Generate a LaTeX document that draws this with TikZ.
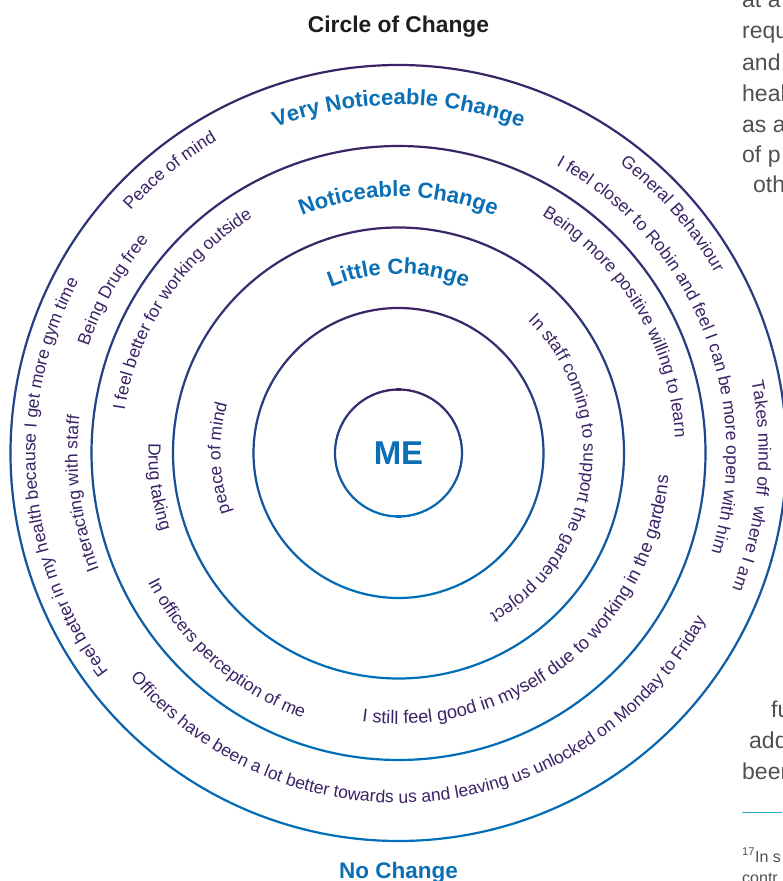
\documentclass[tikz,border=0pt]{standalone}
\usepackage{fontspec}
\setmainfont{Liberation Sans}
\usetikzlibrary{decorations.text}
\definecolor{cpurple}{RGB}{58,36,102}
\definecolor{cblue}{RGB}{0,112,186}
\definecolor{lblue}{RGB}{11,111,181}
\definecolor{itemc}{RGB}{59,35,102}
\definecolor{titlec}{RGB}{30,30,30}
\definecolor{pagegray}{RGB}{80,80,80}
\definecolor{rulecyan}{RGB}{39,170,208}
\newcommand\itemfnt{\fontsize{17.5}{20}\selectfont\color{itemc}}
\newcommand\itemfntb{\fontsize{18.3}{21}\selectfont\color{itemc}}
\newcommand\lblfnt{\fontsize{22}{26}\selectfont\bfseries\color{lblue}}
% clockwise text (tops outward): radius, centre angle, format, text
\newcommand\cwtext[4]{%
  \pgfmathsetmacro\sa{#2+70}\pgfmathsetmacro\ea{#2-70}%
  \path[decorate,decoration={text along path,text align=center,text={|#3|#4}}]
    ([shift={(\sa:#1)}]C) arc[start angle=\sa,end angle=\ea,radius=#1];}
% counter-clockwise text (tops inward)
\newcommand\ccwtext[4]{%
  \pgfmathsetmacro\sa{#2-70}\pgfmathsetmacro\ea{#2+70}%
  \path[decorate,decoration={text along path,text align=center,text={|#3|#4}}]
    ([shift={(\sa:#1)}]C) arc[start angle=\sa,end angle=\ea,radius=#1];}
\tikzset{
  ring/.style={line width=2.2pt,line cap=round},
  pagetxt/.style={font=\fontsize{23}{27}\selectfont,text=pagegray,anchor=base west,inner sep=0pt},
  foottxt/.style={font=\fontsize{16}{19}\selectfont,text=pagegray,anchor=base west,inner sep=0pt},
}
\begin{document}
\begin{tikzpicture}[x=1pt,y=1pt]
\fill[white] (0,0) rectangle (782,881);
\useasboundingbox (0,0) rectangle (782,881);
\coordinate (C) at (398.5,428);
% rings with purple-to-blue stroke
\foreach \r in {63.5,145,225.5,307,388}{
  \foreach \a in {0,4,...,356}{
    \pgfmathtruncatemacro\t{50*(1-sin(\a+2))}
    \pgfmathsetmacro\b{\a+4}
    \draw[ring,draw=cblue!\t!cpurple] ([shift={(\a:\r)}]C) arc[start angle=\a,end angle=\b,radius=\r];
  }
}
% title, centre and bottom label
\node[font=\fontsize{22.8}{27}\selectfont\bfseries,text=titlec,anchor=base,inner sep=0pt] (title) at (398.5,848) {Circle of Change};
\node[font=\fontsize{33}{38}\selectfont\bfseries,text=lblue,anchor=base,inner sep=0pt] (me) at (398.5,416) {ME};
\node[font=\fontsize{22.5}{27}\selectfont\bfseries,text=lblue,anchor=base,inner sep=0pt] (nochange) at (398.5,2) {No Change};
% ring labels
\cwtext{348}{90}{\lblfnt}{Very Noticeable Change}
\cwtext{256}{90}{\lblfnt}{Noticeable Change}
\cwtext{179}{90}{\lblfnt}{Little Change}
% outer ring items
\cwtext{361}{129}{\itemfnt}{Peace of mind}
\cwtext{364}{41.1}{\itemfnt}{General Behaviour}
\cwtext{360}{-5.3}{\itemfnt}{Takes mind off {\kern4.9pt}where I am}
\cwtext{363}{184.4}{\itemfnt}{Feel better in my health because I get more gym time}
\cwtext{328}{150.3}{\itemfnt}{Being Drug free}
\cwtext{321}{187.3}{\itemfnt}{Interacting with staff}
\cwtext{328}{21.85}{\itemfnt}{I feel closer to Robin and feel I can be more open with him}
\ccwtext{350}{275.7}{\itemfnt}{Officers have been a lot better towards us and leaving us unlocked on Monday to Friday}
% noticeable ring items
\cwtext{277}{146.5}{\itemfnt}{I feel better for working outside}
\cwtext{277}{31}{\itemfnt}{Being more positive willing to learn}
\ccwtext{250}{188}{\itemfnt}{Drug taking}
\ccwtext{282}{228.7}{\itemfnt}{In officers perception of me}
\ccwtext{271}{308.7}{\itemfntb}{I still feel good in myself due to working in the gardens}
% little ring items
\cwtext{178}{181.7}{\itemfnt}{peace of mind}
\cwtext{185}{-7.4}{\itemfnt}{In staff coming to support the garden project}
% fragments of the page text on the right
\node[pagetxt] (p1) at (742,873) {at a};
\node[pagetxt] (p2) at (742,842) {requ};
\node[pagetxt] (p3) at (742,810.5) {and};
\node[pagetxt] (p4) at (742,779.3) {heal};
\node[pagetxt] (p5) at (742,748.5) {as a};
\node[pagetxt] (p6) at (742,718) {of p};
\node[pagetxt] (p7) at (753,688) {oth};
\node[pagetxt] (p8) at (771,163) {fu};
\node[pagetxt] (p9) at (749,132) {add};
\node[pagetxt] (p10) at (742,101) {been};
\coordinate (r1) at (742,68);
\coordinate (r2) at (782,68);
\draw[rulecyan,line width=1pt] (r1) -- (r2);
\node[foottxt] (fn1) at (742,19) {\textsuperscript{17}In s};
\node[foottxt] (fn2) at (742,-2) {contr};
\end{tikzpicture}
\end{document}
